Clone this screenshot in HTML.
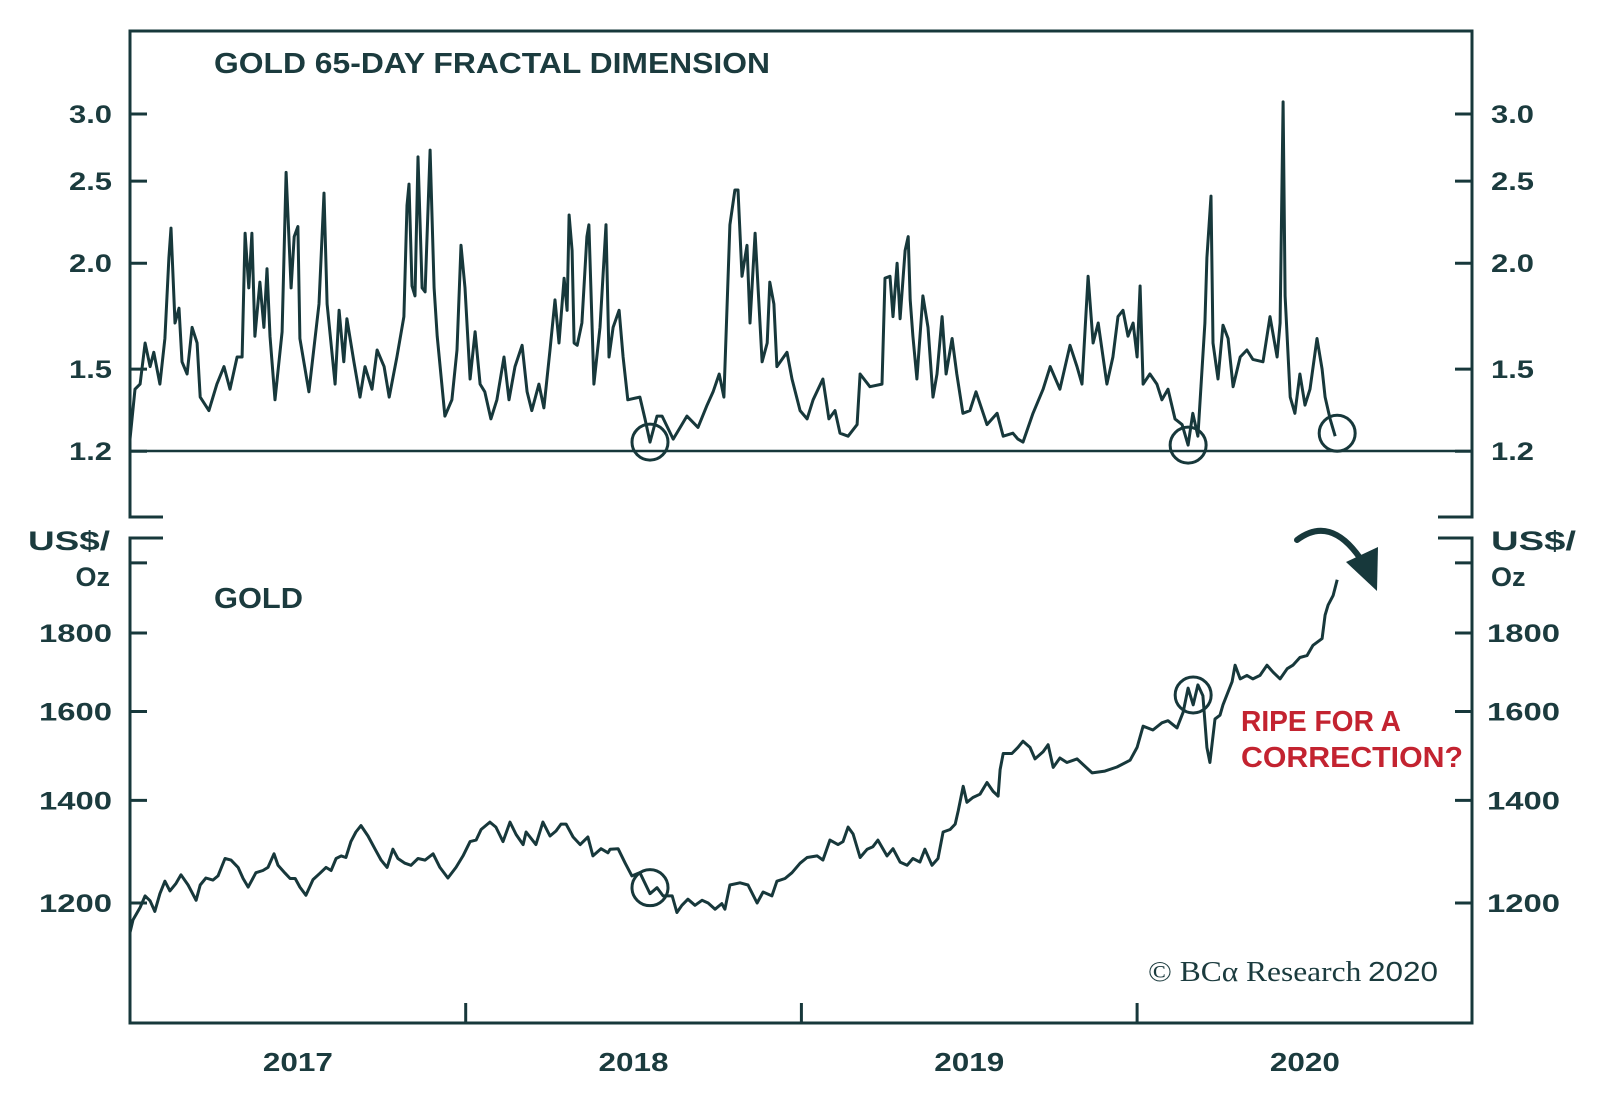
<!DOCTYPE html>
<html>
<head>
<meta charset="utf-8">
<style>
  html,body{margin:0;padding:0;background:#fff;}
  svg{display:block;}
  .lbl{font-family:"Liberation Sans",Arial,sans-serif;font-weight:bold;fill:#1b3b3e;}
</style>
</head>
<body>
<svg id="chart" width="1600" height="1109" viewBox="0 0 1600 1109" xmlns="http://www.w3.org/2000/svg">
  <rect x="0" y="0" width="1600" height="1109" fill="#ffffff"/>
  <g id="frame" fill="none" stroke="#17383b" stroke-width="3">
    <path d="M163 517 H130 V31 H1472 V517 H1438"/>
    <path d="M163 538 H130 V1023 H1472 V538 H1438"/>
  </g>
  <line x1="130" y1="451" x2="1472" y2="451" stroke="#17383b" stroke-width="2.5"/>
  <g id="axes"></g>
  <g id="series"></g>
  <text class="lbl" x="214" y="73" font-size="29" textLength="556" lengthAdjust="spacingAndGlyphs">GOLD 65-DAY FRACTAL DIMENSION</text>
  <text class="lbl" x="214" y="608" font-size="29" textLength="89" lengthAdjust="spacingAndGlyphs">GOLD</text>
  <text class="lbl" x="110" y="550" font-size="27" text-anchor="end" textLength="82" lengthAdjust="spacingAndGlyphs">US$/</text>
  <text class="lbl" x="110" y="586" font-size="27" text-anchor="end">Oz</text>
  <text class="lbl" x="1491" y="550" font-size="27" textLength="85" lengthAdjust="spacingAndGlyphs">US$/</text>
  <text class="lbl" x="1491" y="586" font-size="27">Oz</text>
  <text x="1241" y="731" font-family="Liberation Sans, Arial, sans-serif" font-weight="bold" font-size="29" fill="#c32330" textLength="160" lengthAdjust="spacingAndGlyphs">RIPE FOR A</text>
  <text x="1241" y="767" font-family="Liberation Sans, Arial, sans-serif" font-weight="bold" font-size="29" fill="#c32330" textLength="222" lengthAdjust="spacingAndGlyphs">CORRECTION?</text>
  <g>
    <path d="M1297 540 Q1330 515 1360 558" fill="none" stroke="#17383b" stroke-width="6" stroke-linecap="round"/>
    <polygon points="1346,562 1378,547 1377,591" fill="#17383b"/>
  </g>
  <text x="1148" y="981" font-size="28" fill="#1b3b3e" textLength="290" lengthAdjust="spacingAndGlyphs"><tspan font-family="Liberation Serif, serif">© BCα Research</tspan><tspan font-family="Liberation Sans, sans-serif" dx="6">2020</tspan></text>
</svg>
<script>
// ---- data ----
const fracDates = [0.000,0.015,0.030,0.045,0.060,0.071,0.089,0.104,0.116,0.122,0.134,0.146,0.155,0.170,0.185,0.200,0.209,0.235,0.259,0.280,0.298,0.319,0.334,0.343,0.354,0.363,0.372,0.387,0.399,0.408,0.417,0.432,0.453,0.465,0.480,0.489,0.500,0.506,0.533,0.563,0.578,0.587,0.611,0.623,0.637,0.646,0.667,0.685,0.700,0.721,0.736,0.757,0.772,0.795,0.816,0.825,0.831,0.840,0.849,0.858,0.870,0.879,0.894,0.906,0.915,0.938,0.959,0.974,0.986,0.998,1.013,1.028,1.043,1.057,1.075,1.093,1.114,1.129,1.147,1.168,1.183,1.197,1.218,1.233,1.251,1.266,1.278,1.293,1.302,1.308,1.317,1.323,1.332,1.346,1.361,1.367,1.382,1.400,1.418,1.427,1.439,1.457,1.469,1.483,1.519,1.534,1.549,1.570,1.585,1.618,1.659,1.692,1.719,1.737,1.755,1.769,1.787,1.802,1.811,1.823,1.838,1.847,1.862,1.883,1.898,1.906,1.918,1.927,1.957,1.972,1.996,2.017,2.035,2.064,2.082,2.100,2.115,2.139,2.166,2.175,2.204,2.240,2.249,2.264,2.273,2.285,2.294,2.309,2.318,2.324,2.332,2.344,2.362,2.377,2.392,2.404,2.419,2.431,2.449,2.463,2.481,2.502,2.520,2.553,2.583,2.601,2.630,2.645,2.660,2.690,2.720,2.741,2.770,2.800,2.821,2.836,2.854,2.869,2.884,2.910,2.928,2.943,2.958,2.973,2.988,3.000,3.009,3.018,3.038,3.059,3.074,3.092,3.113,3.134,3.152,3.166,3.181,3.202,3.208,3.220,3.226,3.241,3.256,3.271,3.286,3.307,3.327,3.345,3.375,3.396,3.417,3.426,3.435,3.441,3.456,3.470,3.485,3.500,3.515,3.536,3.551,3.560,3.575,3.590];
const fracValues = [1.24,1.42,1.44,1.61,1.51,1.57,1.44,1.63,2.03,2.20,1.70,1.77,1.53,1.48,1.68,1.61,1.39,1.34,1.44,1.51,1.42,1.55,1.55,2.17,1.87,2.17,1.64,1.90,1.68,1.97,1.64,1.38,1.66,2.56,1.87,2.15,2.21,1.63,1.41,1.79,2.42,1.79,1.44,1.76,1.53,1.72,1.53,1.39,1.51,1.42,1.58,1.51,1.39,1.55,1.73,2.34,2.48,1.88,1.83,2.67,1.87,1.85,2.72,1.87,1.64,1.32,1.38,1.58,2.10,1.87,1.46,1.66,1.44,1.41,1.31,1.38,1.55,1.38,1.51,1.60,1.41,1.34,1.44,1.35,1.58,1.81,1.61,1.92,1.76,2.28,2.07,1.61,1.60,1.70,2.15,2.22,1.44,1.68,2.22,1.55,1.68,1.76,1.55,1.38,1.39,1.31,1.23,1.32,1.32,1.24,1.32,1.28,1.36,1.41,1.48,1.39,2.22,2.44,2.44,1.93,2.10,1.70,2.17,1.53,1.61,1.90,1.79,1.51,1.57,1.46,1.34,1.31,1.38,1.46,1.31,1.34,1.26,1.25,1.29,1.48,1.43,1.44,1.92,1.93,1.73,2.00,1.72,2.07,2.15,1.81,1.64,1.46,1.83,1.68,1.39,1.48,1.73,1.48,1.63,1.48,1.33,1.34,1.41,1.29,1.33,1.25,1.26,1.24,1.23,1.33,1.42,1.51,1.42,1.60,1.51,1.44,1.93,1.61,1.70,1.44,1.55,1.73,1.76,1.64,1.70,1.55,1.88,1.44,1.48,1.44,1.38,1.42,1.31,1.29,1.22,1.33,1.25,1.70,2.03,2.40,1.61,1.46,1.69,1.63,1.43,1.55,1.58,1.54,1.53,1.73,1.55,1.70,3.10,1.83,1.39,1.33,1.48,1.36,1.42,1.63,1.50,1.39,1.31,1.25];
const goldDates = [0.000,0.009,0.030,0.045,0.060,0.074,0.089,0.104,0.119,0.137,0.152,0.173,0.197,0.209,0.226,0.247,0.262,0.283,0.301,0.322,0.337,0.352,0.375,0.396,0.411,0.429,0.441,0.462,0.477,0.492,0.506,0.524,0.545,0.566,0.584,0.599,0.614,0.629,0.643,0.658,0.673,0.688,0.709,0.730,0.748,0.766,0.783,0.798,0.819,0.837,0.858,0.879,0.903,0.923,0.947,0.971,0.992,1.013,1.031,1.046,1.072,1.090,1.111,1.132,1.150,1.171,1.180,1.209,1.230,1.251,1.269,1.284,1.299,1.320,1.341,1.364,1.379,1.403,1.424,1.430,1.454,1.475,1.495,1.519,1.549,1.570,1.588,1.615,1.629,1.644,1.662,1.683,1.704,1.722,1.743,1.763,1.772,1.787,1.817,1.841,1.868,1.886,1.912,1.927,1.951,1.972,1.996,2.017,2.047,2.064,2.085,2.109,2.124,2.139,2.154,2.175,2.196,2.213,2.228,2.255,2.273,2.294,2.315,2.332,2.353,2.368,2.389,2.407,2.422,2.443,2.458,2.467,2.482,2.493,2.511,2.532,2.553,2.571,2.586,2.592,2.601,2.627,2.645,2.660,2.681,2.696,2.720,2.735,2.750,2.770,2.791,2.821,2.866,2.904,2.940,2.979,3.000,3.018,3.047,3.074,3.092,3.119,3.137,3.152,3.167,3.181,3.196,3.208,3.217,3.232,3.247,3.256,3.283,3.292,3.307,3.327,3.345,3.366,3.387,3.405,3.426,3.447,3.464,3.485,3.506,3.524,3.551,3.560,3.569,3.584,3.596];
const goldValues = [1148,1170,1192,1213,1204,1185,1217,1240,1222,1236,1252,1233,1205,1233,1246,1242,1250,1283,1280,1266,1245,1229,1256,1260,1266,1292,1270,1255,1245,1245,1229,1214,1243,1255,1266,1260,1283,1288,1285,1316,1335,1348,1327,1301,1280,1266,1301,1283,1274,1270,1283,1280,1292,1266,1246,1266,1288,1316,1319,1340,1355,1345,1316,1355,1330,1310,1335,1310,1355,1327,1337,1351,1351,1325,1310,1325,1288,1302,1294,1301,1302,1274,1250,1256,1217,1228,1213,1213,1183,1196,1207,1196,1205,1200,1189,1199,1189,1233,1237,1233,1200,1220,1213,1240,1245,1256,1274,1285,1288,1280,1319,1310,1316,1345,1331,1285,1301,1306,1319,1288,1302,1276,1270,1283,1276,1301,1270,1283,1335,1340,1351,1378,1430,1396,1406,1413,1438,1419,1409,1466,1502,1502,1516,1530,1516,1490,1506,1522,1471,1492,1482,1490,1459,1463,1472,1487,1516,1565,1556,1573,1578,1561,1598,1657,1616,1665,1638,1516,1482,1582,1591,1616,1673,1715,1680,1689,1680,1689,1715,1697,1680,1706,1715,1735,1740,1767,1785,1849,1877,1904,1950];
const fracTicks = [3.0,2.5,2.0,1.5,1.2];
const fracTickLabels = ["3.0","2.5","2.0","1.5","1.2"];
const goldTicks = [2000,1800,1600,1400,1200];
const goldTickLabels = ["","1800","1600","1400","1200"];
const yearTicks = [1,2,3];
const yearLabelPos = [0.5,1.5,2.5,3.5];
const yearLabels = ["2017","2018","2019","2020"];
const fracCircleDates = [1.549,3.152,3.596];
const fracCircleValues = [1.23,1.22,1.26];
const goldCircleDates = [1.549,3.167];
const goldCircleValues = [1228,1640];

// ---- scales ----
const X0 = 130, YEARW = 335.7;
function xScale(t){ return X0 + t*YEARW; }
function yTop(v){ return 114 + (Math.log(3) - Math.log(v))*368; }
function yBot(v){ return 633 + (Math.log(1800) - Math.log(v))*666; }

const NS = "http://www.w3.org/2000/svg";
const axes = document.getElementById('axes');
const series = document.getElementById('series');
const INK = "#17383b";

function mk(tag, attrs){
  const e = document.createElementNS(NS, tag);
  for (const k in attrs) e.setAttribute(k, attrs[k]);
  return e;
}

// top axis ticks
fracTicks.forEach((v,i)=>{
  const y = yTop(v);
  const tl = mk('line',{x1:130,x2:147,y1:y,y2:y,stroke:INK,'stroke-width':3});
  
  
  axes.appendChild(tl);
  const tr = mk('line',{x1:1455,x2:1472,y1:y,y2:y,stroke:INK,'stroke-width':3});
  
  
  axes.appendChild(tr);
  const ll = mk('text',{x:112,y:y+9,'font-size':25,'text-anchor':'end',class:'lbl',textLength:43,lengthAdjust:'spacingAndGlyphs'});
  ll.textContent = fracTickLabels[i];
  
  
  axes.appendChild(ll);
  const rl = mk('text',{x:1491,y:y+9,'font-size':25,class:'lbl',textLength:43,lengthAdjust:'spacingAndGlyphs'});
  rl.textContent = fracTickLabels[i];
  
  
  axes.appendChild(rl);
});

// bottom axis ticks
goldTicks.forEach((v,i)=>{
  const y = yBot(v);
  const tl = mk('line',{x1:130,x2:147,y1:y,y2:y,stroke:INK,'stroke-width':3});
  
  
  axes.appendChild(tl);
  const tr = mk('line',{x1:1455,x2:1472,y1:y,y2:y,stroke:INK,'stroke-width':3});
  
  
  axes.appendChild(tr);
  if (goldTickLabels[i]) {
    const ll = mk('text',{x:112,y:y+9,'font-size':25,'text-anchor':'end',class:'lbl',textLength:73,lengthAdjust:'spacingAndGlyphs'});
    ll.textContent = goldTickLabels[i];
    
    
    axes.appendChild(ll);
    const rl = mk('text',{x:1487,y:y+9,'font-size':25,class:'lbl',textLength:73,lengthAdjust:'spacingAndGlyphs'});
    rl.textContent = goldTickLabels[i];
    
    
    axes.appendChild(rl);
  }
});

// year ticks and labels
yearTicks.forEach(t=>{
  const x = xScale(t);
  const l = mk('line',{x1:x,x2:x,y1:1003,y2:1023,stroke:INK,'stroke-width':3});
  
  
  axes.appendChild(l);
});
yearLabelPos.forEach((t,i)=>{
  const tx = mk('text',{x:xScale(t),y:1071,'font-size':26,'text-anchor':'middle',class:'lbl',textLength:70,lengthAdjust:'spacingAndGlyphs'});
  tx.textContent = yearLabels[i];
  
  
  axes.appendChild(tx);
});

// series lines
function pathFrom(dates, vals, ys){
  return dates.map((t,i)=>(i?'L':'M')+xScale(t).toFixed(1)+' '+ys(vals[i]).toFixed(1)).join(' ');
}
const fracLine = mk('path',{d:pathFrom(fracDates,fracValues,yTop),fill:'none',stroke:INK,'stroke-width':3,'stroke-linejoin':'round'});


series.appendChild(fracLine);

const goldLine = mk('path',{d:pathFrom(goldDates,goldValues,yBot),fill:'none',stroke:INK,'stroke-width':3,'stroke-linejoin':'round'});


series.appendChild(goldLine);

// circles
fracCircleDates.forEach((t,i)=>{
  const c = mk('circle',{cx:xScale(t),cy:yTop(fracCircleValues[i]),r:18,fill:'none',stroke:INK,'stroke-width':3});
  
  
  series.appendChild(c);
});
goldCircleDates.forEach((t,i)=>{
  const c = mk('circle',{cx:xScale(t),cy:yBot(goldCircleValues[i]),r:18,fill:'none',stroke:INK,'stroke-width':3});
  
  
  series.appendChild(c);
});
</script>
</body>
</html>
